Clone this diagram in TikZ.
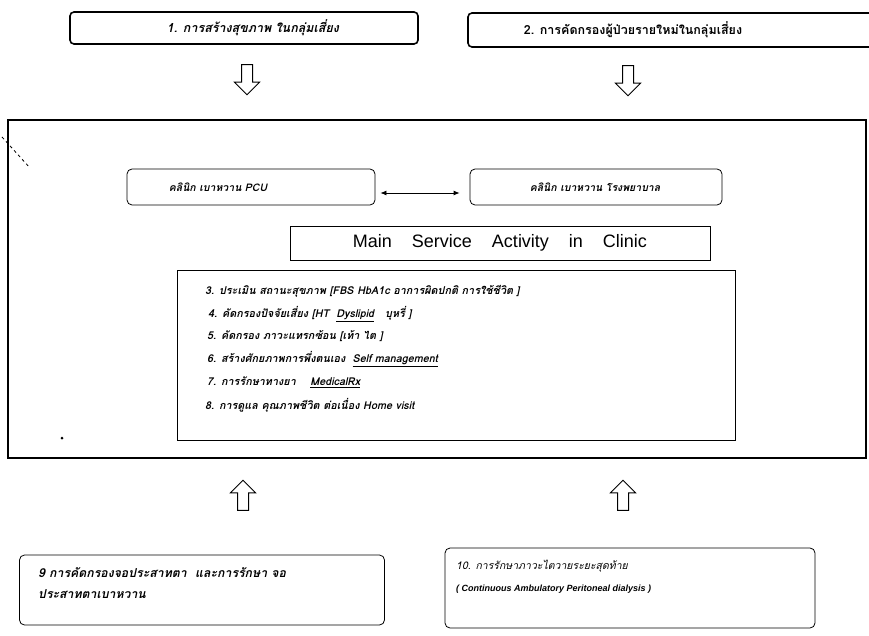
\documentclass[tikz,border=0pt]{standalone}
\usepackage{fontspec}
\setmainfont{Liberation Sans}
\newfontfamily\thaifont[Script=Thai]{Loma}
\usetikzlibrary{shapes.arrows,arrows.meta}
\begin{document}
\begin{tikzpicture}[x=1pt,y=-1pt,
  topbox/.style={draw,line width=1.6pt,rounded corners=4pt,inner sep=0pt},
  clinicbox/.style={draw,line width=0.8pt,rounded corners=5pt,inner sep=0pt,minimum height=36pt},
  thaitxt/.style={font=\thaifont\bfseries\itshape\fontsize{12.5}{14}\selectfont,inner sep=0pt},
  clinictxt/.style={font=\thaifont\bfseries\itshape\fontsize{10.5}{12}\selectfont,inner sep=0pt},
  itemtxt/.style={font=\thaifont\bfseries\itshape\fontsize{10.8}{12}\selectfont,anchor=west,inner sep=0pt},
  bottomtxt/.style={font=\thaifont\bfseries\itshape\fontsize{12.3}{14}\selectfont,anchor=west,inner sep=0pt},
  blockarrow/.style={single arrow,draw,line width=1pt,inner sep=5pt,minimum height=30pt,
    single arrow head extend=7pt,single arrow head indent=0pt,fill=white}
]
\useasboundingbox (0,0) rectangle (869,636);
\fill[white] (0,0) rectangle (869,636);

% top boxes
\node[topbox,minimum width=348pt,minimum height=32pt] (b1) at (244,28) {};
\node[thaitxt] (t1) at (253,28) {1. การสร้างสุขภาพ ในกลุ่มเสี่ยง};
\node[topbox,minimum width=440pt,minimum height=34pt] (b2) at (688,30) {};
\node[thaitxt,font=\thaifont\bfseries\fontsize{12.5}{14}\selectfont] (t2) at (633,30) {2. การคัดกรองผู้ป่วยรายใหม่ในกลุ่มเสี่ยง};

% down arrows
\node[blockarrow,rotate=-90] (d1) at (247,77) {};
\node[blockarrow,rotate=-90] (d2) at (628,78) {};

% big box
\node[draw,line width=1.5pt,minimum width=858pt,minimum height=338pt,inner sep=0pt] (big) at (437,289) {};
\coordinate (ds) at (2,137);
\coordinate (de) at (30,168);
\draw[dashed,line width=0.8pt] (ds) -- (de);
\fill (62,438) circle (1.5pt);

% clinics
\node[clinicbox,minimum width=248pt] (pcu) at (251,187) {};
\node[clinictxt] (tpcu) at (218,187) {คลินิก เบาหวาน PCU};
\node[clinicbox,minimum width=252pt] (hos) at (596,187) {};
\node[clinictxt] (thos) at (595,187) {คลินิก เบาหวาน โรงพยาบาล};
\draw[{Latex[length=6pt,width=5pt]}-{Latex[length=6pt,width=5pt]},line width=0.8pt] ([xshift=5pt,yshift=-6pt]pcu.east) -- ([xshift=-10pt,yshift=-6pt]hos.west);

% main service
\node[draw,line width=0.8pt,minimum width=420pt,minimum height=34pt,inner sep=0pt,font=\fontsize{18}{20}\selectfont] (ms) at (500,243) {Main\hspace{20pt}Service\hspace{20pt}Activity\hspace{20pt}in\hspace{20pt}Clinic};

% inner box
\node[draw,line width=0.8pt,minimum width=558pt,minimum height=170pt,inner sep=0pt] (inner) at (456,355) {};
\node[itemtxt] (i3) at (205,291) {3. ประเมิน สถานะสุขภาพ [FBS HbA1c อาการผิดปกติ การใช้ชีวิต ]};
\node[itemtxt] (i4) at (208,314) {4. คัดกรองปัจจัยเสี่ยง [HT \ \underline{Dyslipid}\ \ \ บุหรี่ ]};
\node[itemtxt] (i5) at (207,336) {5. คัดกรอง ภาวะแทรกซ้อน [เท้า ไต ]};
\node[itemtxt] (i6) at (207,359) {6. สร้างศักยภาพการพึ่งตนเอง \ \underline{Self management}};
\node[itemtxt] (i7) at (207,382) {7. การรักษาทางยา \quad \underline{MedicalRx}};
\node[itemtxt] (i8) at (205,405) {8. การดูแล คุณภาพชีวิต ต่อเนื่อง Home visit};

% up arrows
\node[blockarrow,rotate=90] (u1) at (243,498) {};
\node[blockarrow,rotate=90] (u2) at (623,498) {};

% bottom boxes
\node[clinicbox,minimum width=365pt,minimum height=70pt] (b9) at (202,590) {};
\node[bottomtxt] (t9a) at (38,573) {9 การคัดกรองจอประสาทตา \ และการรักษา จอ};
\node[bottomtxt] (t9b) at (38,594) {ประสาทตาเบาหวาน};
\node[clinicbox,minimum width=370pt,minimum height=80pt] (b10) at (630,588) {};
\node[itemtxt,font=\thaifont\itshape\fontsize{10.5}{12}\selectfont] (t10a) at (456,566) {10. การรักษาภาวะไตวายระยะสุดท้าย};
\node[itemtxt,font=\bfseries\itshape\fontsize{9}{11}\selectfont] (t10b) at (456,589) {( Continuous Ambulatory Peritoneal dialysis )};
\end{tikzpicture}
\end{document}
